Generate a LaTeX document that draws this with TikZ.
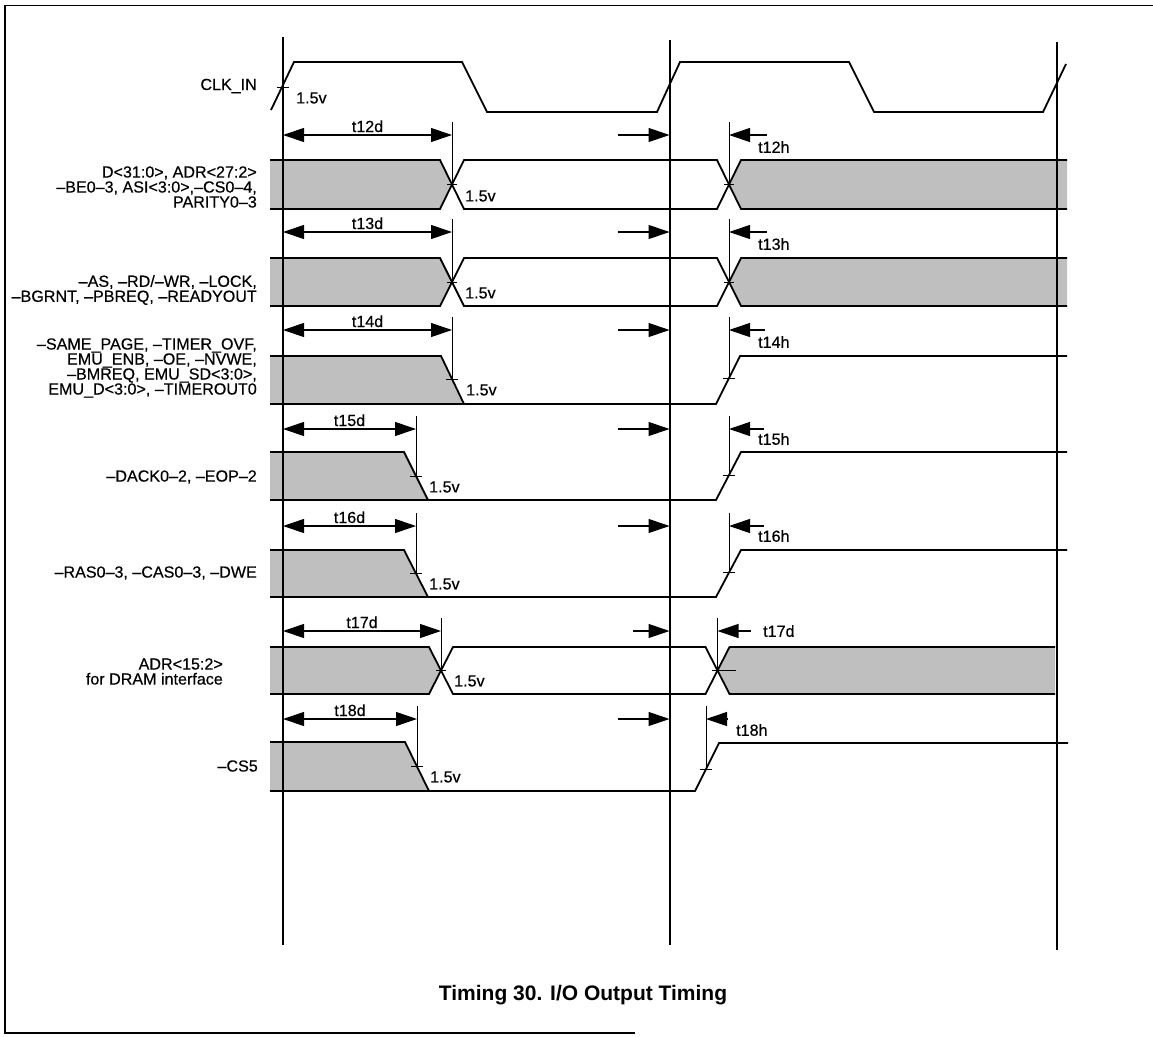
\documentclass[tikz,border=0pt]{standalone}
\usepackage{fontspec}
\setmainfont{Liberation Sans}
\newfontfamily\scanfont[FakeBold=0.4]{Liberation Sans}
\usetikzlibrary{arrows.meta}
\tikzset{
  sig/.style={line width=1.8pt, line join=miter},
  shade/.style={fill=black!25},
  refl/.style={line width=1.1pt},
  tk/.style={line width=1pt},
  dimline/.style={line width=1.1pt},
  frame/.style={line width=1.8pt},
  lbl/.style={font=\scanfont\fontsize{16.1}{15}\selectfont, align=right, anchor=east, inner sep=0pt},
  vlab/.style={font=\scanfont\fontsize{16.1}{15}\selectfont, anchor=west, inner sep=0pt},
  tlab/.style={font=\scanfont\fontsize{16.1}{15}\selectfont, inner sep=0pt},
  dboth/.style={{Triangle[length=21pt,width=14pt]}-{Triangle[length=21pt,width=14pt]}},
  dend/.style={-{Triangle[length=21pt,width=14pt]}},
}
% #1 arrow y, #2 delay tick x, #3 hold tick x, #4 delay-cross y, #5 hold-cross y,
% #6 delay label, #7 hold tail length, #8 setup tail start
\newcommand\dimrow[8]{%
  \coordinate (#6-a) at (283,#1);
  \coordinate (#6-b) at (#2,#1);
  \coordinate (#6-c) at (#8,#1);
  \coordinate (#6-d) at (669.5,#1);
  \coordinate (#6-e) at (#3+#7,#1);
  \coordinate (#6-f) at (#3,#1);
  \draw[tk] (#2,#1-13) -- (#2,#4);
  \draw[tk] (#3,#1-13) -- (#3,#5);
  \draw[dimline,dboth] (#6-a) -- (#6-b);
  \node[tlab,anchor=base] (#6) at ({(283+#2)/2},#1-3) {#6};
  \draw[dimline,dend] (#6-c) -- (#6-d);
  \draw[dimline,dend] (#6-e) -- (#6-f);
}
\newcommand\crosstick[3]{\draw[tk] (#1-#3,#2) -- (#1+#3,#2);}
\begin{document}
\begin{tikzpicture}[x=1pt,y=-1pt]
\useasboundingbox (0,0) rectangle (1153,1036);
% frame
\draw[frame] (1153,5.5) -- (5,5.5) -- (5,1033) -- (635,1033);
% ---------- fills ----------
\fill[shade] (270,160) -- (440,160) -- (452,184.5) -- (440,209) -- (270,209) -- cycle;
\fill[shade] (729,184.5) -- (741,160) -- (1067,160) -- (1067,209) -- (741,209) -- cycle;
\fill[shade] (270,258) -- (440,258) -- (452,282) -- (440,306) -- (270,306) -- cycle;
\fill[shade] (729,282) -- (741,258) -- (1067,258) -- (1067,306) -- (741,306) -- cycle;
\fill[shade] (270,356) -- (441,356) -- (464,404) -- (270,404) -- cycle;
\fill[shade] (270,452) -- (404,452) -- (428,500) -- (270,500) -- cycle;
\fill[shade] (270,550) -- (404,550) -- (428,597) -- (270,597) -- cycle;
\fill[shade] (270,647) -- (429,647) -- (441,670.5) -- (429,694) -- (270,694) -- cycle;
\fill[shade] (717.5,670.5) -- (729.5,647) -- (1055,647) -- (1055,694) -- (729.5,694) -- cycle;
\fill[shade] (270,742) -- (405,742) -- (429,791) -- (270,791) -- cycle;
% ---------- reference lines ----------
\coordinate (r1t) at (283,37);  \coordinate (r1b) at (283,945);
\coordinate (r2t) at (670,40);  \coordinate (r2b) at (670,945);
\coordinate (r3t) at (1057,42); \coordinate (r3b) at (1057,950);
\draw[line width=1.6pt] (r1t) -- (r1b);
\draw[refl] (r2t) -- (r2b);
\draw[refl] (r3t) -- (r3b);
% ---------- clock ----------
\node[lbl] (clk) at (257,86) {CLK\_IN};
\draw[sig] (271,110) -- (294,62) -- (462,62) -- (487,112) -- (657,112) -- (680,62)
  -- (849,62) -- (874,112) -- (1043,112) -- (1066,64);
\crosstick{283}{87}{6}
\node[vlab] (v0) at (296,98) {1.5v};
% ---------- signal 1 ----------
\node[lbl] (s1) at (257,187) {D<31:0>, ADR<27:2>\\–BE0–3, ASI<3:0>,–CS0–4,\\PARITY0–3};
\draw[sig] (270,160) -- (440,160) -- (464,209) -- (717,209) -- (741,160) -- (1067,160);
\draw[sig] (270,209) -- (440,209) -- (464,160) -- (717,160) -- (741,209) -- (1067,209);
\crosstick{452}{184.5}{5}\crosstick{729}{184.5}{5}
\node[vlab] (v1) at (465,196) {1.5v};
% ---------- signal 2 ----------
\node[lbl] (s2) at (257,290) {–AS, –RD/–WR, –LOCK,\\–BGRNT, –PBREQ, –READYOUT};
\draw[sig] (270,258) -- (440,258) -- (464,306) -- (717,306) -- (741,258) -- (1067,258);
\draw[sig] (270,306) -- (440,306) -- (464,258) -- (717,258) -- (741,306) -- (1067,306);
\crosstick{452}{282}{5}\crosstick{729}{282}{5}
\node[vlab] (v2) at (465,293) {1.5v};
% ---------- signal 3 ----------
\node[lbl] (s3) at (257,368) {–SAME\_PAGE, –TIMER\_OVF,\\EMU\_ENB, –OE, –NVWE,\\–BMREQ, EMU\_SD<3:0>,\\EMU\_D<3:0>, –TIMEROUT0};
\draw[sig] (270,356) -- (441,356) -- (464,404);
\draw[sig] (270,404) -- (716,404) -- (740,356) -- (1067,356);
\crosstick{452}{379}{6}\crosstick{729}{378}{6}
\node[vlab] (v3) at (466,390) {1.5v};
% ---------- signal 4 ----------
\node[lbl] (s4) at (257,477) {–DACK0–2, –EOP–2};
\draw[sig] (270,452) -- (404,452) -- (428,500);
\draw[sig] (270,500) -- (716,500) -- (741,452) -- (1067,452);
\crosstick{416}{476}{6}\crosstick{729}{475}{6}
\node[vlab] (v4) at (429,487) {1.5v};
% ---------- signal 5 ----------
\node[lbl] (s5) at (257,573) {–RAS0–3, –CAS0–3, –DWE};
\draw[sig] (270,550) -- (404,550) -- (428,597);
\draw[sig] (270,597) -- (716,597) -- (741,550) -- (1067,550);
\crosstick{416}{573.5}{6}\crosstick{729}{572.6}{6}
\node[vlab] (v5) at (429,584) {1.5v};
% ---------- signal 6 ----------
\node[lbl] (s6) at (223,671.5) {ADR<15:2>\\for DRAM interface};
\draw[sig] (270,647) -- (429,647) -- (453,694) -- (705.5,694) -- (729.5,647) -- (1055,647);
\draw[sig] (270,694) -- (429,694) -- (453,647) -- (705.5,647) -- (729.5,694) -- (1055,694);
\crosstick{441}{670.5}{5}
\draw[tk] (712,670.5) -- (736,670.5);
\node[vlab] (v6) at (454,681) {1.5v};
% ---------- signal 7 ----------
\node[lbl] (s7) at (258,766) {–CS5};
\draw[sig] (270,742) -- (405,742) -- (429,791);
\draw[sig] (270,791) -- (695,791) -- (719,743) -- (1068,743);
\crosstick{417}{766.5}{6}\crosstick{706}{769}{6}
\node[vlab] (v7) at (430,777) {1.5v};
% ---------- timing dimensions ----------
\dimrow{135}{452}{729}{184.5}{184.5}{t12d}{38}{618}
\dimrow{232}{452}{729}{282}{282}{t13d}{38}{618}
\dimrow{330}{452}{729}{379}{378}{t14d}{36}{618}
\dimrow{429}{416}{729}{476}{475}{t15d}{35}{618}
\dimrow{526}{416}{729}{573.5}{572.6}{t16d}{35}{618}
\dimrow{631}{441}{717.5}{670.5}{670.5}{t17d}{33}{633}
\dimrow{719}{417}{706}{766.5}{769}{t18d}{22}{618}
\node[vlab] (h12) at (758,147) {t12h};
\node[vlab] (h13) at (758,244) {t13h};
\node[vlab] (h14) at (758,342) {t14h};
\node[vlab] (h15) at (758,439) {t15h};
\node[vlab] (h16) at (758,536) {t16h};
\node[vlab] (h17) at (763,631) {t17d};
\node[vlab] (h18) at (736,730) {t18h};
% ---------- title ----------
\node[font=\bfseries\fontsize{21}{21}\selectfont, inner sep=0pt, anchor=base] (title) at (583,1000) {Timing 30. I/O Output Timing};
\end{tikzpicture}
\end{document}
